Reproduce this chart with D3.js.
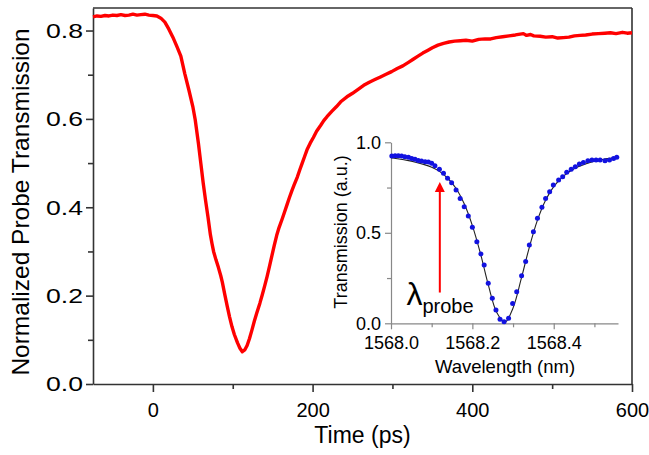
<!DOCTYPE html>
<html>
<head>
<meta charset="utf-8">
<script src="https://cdn.jsdelivr.net/npm/d3@7"></script>
<style>
  body { margin: 0; background: #fff; }
  svg { font-family: "Liberation Sans", Arial, sans-serif; }
</style>
</head>
<body>
<svg id="chart" width="649" height="455"></svg>
<script>
// main trace: normalized probe transmission vs delay
var timePs = [-75,-70,-65,-60,-55,-50,-45,-40,-35,-30,-25,-20,-15,-10,-5,0,5,10,15,20,25,30,35,40,45,50,53,57,60,63,66,69,72,74,76,79,82,85,87,90,93,96,99,102,106,109,112,115,118,121,124,127,130,134,137,140,143,146,149,152,155,158,162,165,168,171,174,177,181,184,187,190,193,197,201,205,210,214,218,224,230,236,243,250,257,264,271,278,285,292,299,306,313,320,326,332,338,344,350,357,364,371,378,385,392,400,408,416,423,430,438,446,454,460,464,468,473,477,485,492,500,507,514,521,528,535,542,550,558,566,573,580,588,594,600];
var probeT = [.831,.833,.832,.834,.833,.835,.834,.836,.834,.835,.837,.835,.836,.837,.835,.834,.833,.828,.819,.803,.785,.764,.742,.702,.666,.628,.598,.545,.500,.455,.415,.378,.338,.318,.300,.281,.264,.245,.230,.203,.177,.152,.130,.112,.093,.081,.073,.077,.087,.103,.122,.142,.160,.183,.202,.222,.243,.266,.290,.314,.336,.354,.374,.390,.406,.422,.437,.451,.469,.485,.500,.515,.530,.545,.558,.572,.585,.596,.605,.617,.628,.640,.650,.658,.667,.676,.683,.689,.695,.701,.707,.714,.720,.728,.735,.742,.749,.755,.761,.767,.771,.774,.776,.777,.778,.776,.780,.781,.781,.784,.786,.788,.790,.792,.793,.789,.791,.788,.787,.785,.786,.783,.784,.785,.788,.789,.790,.792,.793,.794,.795,.793,.796,.794,.795];

var xMajor = [0, 200, 400, 600];
var xMinor = [100, 300, 500];
var yMajor = [0, 0.2, 0.4, 0.6, 0.8];
var yMinor = [0.1, 0.3, 0.5, 0.7];

// inset: resonance spectrum (dots) and fit (line)
var wlData = [1568.002,1568.010,1568.018,1568.026,1568.034,1568.043,1568.051,1568.059,1568.067,1568.075,1568.084,1568.092,1568.100,1568.108,1568.119,1568.129,1568.139,1568.149,1568.160,1568.170,1568.180,1568.190,1568.200,1568.211,1568.221,1568.229,1568.239,1568.249,1568.258,1568.268,1568.278,1568.289,1568.299,1568.309,1568.321,1568.331,1568.340,1568.350,1568.360,1568.371,1568.380,1568.390,1568.399,1568.412,1568.422,1568.432,1568.443,1568.453,1568.463,1568.473,1568.484,1568.494,1568.504,1568.514,1568.526,1568.537,1568.547,1568.555];
var transData = [.924,.926,.926,.924,.920,.917,.911,.906,.900,.897,.893,.891,.884,.870,.851,.829,.801,.777,.737,.690,.644,.593,.530,.451,.383,.322,.221,.138,.074,.022,.009,.028,.110,.175,.263,.341,.433,.506,.580,.641,.690,.727,.764,.792,.810,.834,.851,.865,.880,.889,.898,.902,.902,.902,.898,.902,.910,.917];
var wlFit = [1568.00,1568.02,1568.04,1568.06,1568.08,1568.10,1568.12,1568.14,1568.16,1568.18,1568.20,1568.22,1568.24,1568.26,1568.28,1568.30,1568.32,1568.34,1568.36,1568.38,1568.40,1568.42,1568.44,1568.46,1568.48,1568.50,1568.52,1568.54,1568.56];
var transFit = [.915,.908,.900,.890,.878,.862,.838,.800,.745,.660,.540,.385,.205,.060,.006,.085,.245,.420,.570,.680,.755,.805,.840,.865,.882,.895,.905,.912,.918];
var insetXMajor = [1568.0, 1568.2, 1568.4];
var insetXMinor = [1568.1, 1568.3, 1568.5];
var insetYMajor = [0, 0.5, 1.0];
var insetYMinor = [0.25, 0.75];
var lambdaProbe = 1568.12;

function drawChart() {
  var svg = d3.select("#chart");
  var margin = { left: 93, right: 632, top: 8, bottom: 384 };
  var axisColor = "#333";

  var x = d3.scaleLinear().domain([-75, 600]).range([margin.left, margin.right]);
  var y = d3.scaleLinear().domain([0, 0.851]).range([margin.bottom, margin.top]);

  // frame top / right
  svg.append("line").attr("x1", margin.left).attr("x2", margin.right).attr("y1", margin.top).attr("y2", margin.top)
    .attr("stroke", axisColor).attr("stroke-width", 1.6);
  svg.append("line").attr("x1", margin.right).attr("x2", margin.right).attr("y1", margin.top).attr("y2", margin.bottom)
    .attr("stroke", axisColor).attr("stroke-width", 1.6);

  function styleAxis(g, col, w) {
    g.select(".domain").attr("stroke", col).attr("stroke-width", w);
    g.selectAll(".tick line").attr("stroke", col).attr("stroke-width", w);
    g.selectAll(".tick text").attr("fill", "#000");
  }

  var gx = svg.append("g").attr("transform", "translate(0," + margin.bottom + ")")
    .call(d3.axisBottom(x).tickValues(xMajor).tickSize(8).tickSizeOuter(0).tickPadding(11).tickFormat(d3.format("d")));
  gx.selectAll(".tick text").attr("font-size", 20);
  styleAxis(gx, axisColor, 1.6);
  svg.append("g").attr("transform", "translate(0," + margin.bottom + ")")
    .call(d3.axisBottom(x).tickValues(xMinor).tickSize(5).tickFormat(""))
    .call(function(g){ g.select(".domain").remove(); styleAxis(g, axisColor, 1.6); });

  var gy = svg.append("g").attr("transform", "translate(" + margin.left + ",0)")
    .call(d3.axisLeft(y).tickValues(yMajor).tickSize(7).tickSizeOuter(0).tickPadding(3).tickFormat(d3.format(".1f")));
  gy.selectAll(".tick text").attr("font-size", 21)
    .attr("textLength", 37).attr("lengthAdjust", "spacingAndGlyphs");
  styleAxis(gy, axisColor, 1.6);
  svg.append("g").attr("transform", "translate(" + margin.left + ",0)")
    .call(d3.axisLeft(y).tickValues(yMinor).tickSize(5).tickFormat(""))
    .call(function(g){ g.select(".domain").remove(); styleAxis(g, axisColor, 1.6); });

  svg.append("text").attr("x", (margin.left + margin.right) / 2).attr("y", 443)
    .attr("text-anchor", "middle").attr("font-size", 23).text("Time (ps)");
  svg.append("text").attr("transform", "translate(29,202) rotate(-90)")
    .attr("text-anchor", "middle").attr("font-size", 24.5).text("Normalized Probe Transmission");

  var mainData = timePs.map(function(t, i){ return [t, probeT[i]]; });
  svg.append("path").datum(mainData)
    .attr("fill", "none").attr("stroke", "#ff0000").attr("stroke-width", 3.4)
    .attr("stroke-linejoin", "round")
    .attr("d", d3.line().x(function(d){ return x(d[0]); }).y(function(d){ return y(d[1]); }));

  // ---- inset ----
  var inset = { left: 391, right: 618, top: 142.3, bottom: 323.3 };
  var ix = d3.scaleLinear().domain([1568.0, 1568.558]).range([inset.left, inset.right]);
  var iy = d3.scaleLinear().domain([0, 1]).range([inset.bottom, inset.top]);
  var insetColor = "#888";

  var igx = svg.append("g").attr("transform", "translate(0," + inset.bottom + ")")
    .call(d3.axisBottom(ix).tickValues(insetXMajor).tickSize(6).tickSizeOuter(0).tickPadding(7).tickFormat(d3.format(".1f")));
  igx.selectAll(".tick text").attr("font-size", 18);
  styleAxis(igx, insetColor, 1.2);
  svg.append("g").attr("transform", "translate(0," + inset.bottom + ")")
    .call(d3.axisBottom(ix).tickValues(insetXMinor).tickSize(4).tickFormat(""))
    .call(function(g){ g.select(".domain").remove(); styleAxis(g, insetColor, 1.2); });

  var igy = svg.append("g").attr("transform", "translate(" + inset.left + ",0)")
    .call(d3.axisLeft(iy).tickValues(insetYMajor).tickSize(6).tickSizeOuter(0).tickPadding(4).tickFormat(d3.format(".1f")));
  igy.selectAll(".tick text").attr("font-size", 18);
  styleAxis(igy, insetColor, 1.2);
  svg.append("g").attr("transform", "translate(" + inset.left + ",0)")
    .call(d3.axisLeft(iy).tickValues(insetYMinor).tickSize(4).tickFormat(""))
    .call(function(g){ g.select(".domain").remove(); styleAxis(g, insetColor, 1.2); });

  svg.append("text").attr("x", 505).attr("y", 373)
    .attr("text-anchor", "middle").attr("font-size", 18.5).text("Wavelength (nm)");
  svg.append("text").attr("transform", "translate(347,232) rotate(-90)")
    .attr("text-anchor", "middle").attr("font-size", 18).text("Transmission (a.u.)");

  var fitData = wlFit.map(function(w, i){ return [w, transFit[i]]; });
  svg.append("path").datum(fitData)
    .attr("fill", "none").attr("stroke", "#222").attr("stroke-width", 1.1)
    .attr("d", d3.line().curve(d3.curveCatmullRom).x(function(d){ return ix(d[0]); }).y(function(d){ return iy(d[1]); }));

  svg.selectAll(".dot").data(wlData).enter().append("circle")
    .attr("class", "dot")
    .attr("cx", function(d){ return ix(d); })
    .attr("cy", function(d, i){ return iy(transData[i]); })
    .attr("r", 2.5).attr("fill", "#1212e0");

  // probe arrow
  var ax = ix(lambdaProbe);
  svg.append("line").attr("x1", ax).attr("x2", ax).attr("y1", iy(0.17)).attr("y2", iy(0.73))
    .attr("stroke", "#ff0000").attr("stroke-width", 2);
  svg.append("path")
    .attr("d", "M" + ax + "," + iy(0.78) + "L" + (ax - 5) + "," + iy(0.725) + "L" + (ax + 5) + "," + iy(0.725) + "Z")
    .attr("fill", "#ff0000");

  var lab = svg.append("text").attr("x", ix(1568.038)).attr("y", iy(0.1)).attr("font-size", 32);
  lab.append("tspan").text("λ");
  lab.append("tspan").attr("font-size", 20).attr("dy", 8).text("probe");
}

drawChart();
</script>
</body>
</html>
